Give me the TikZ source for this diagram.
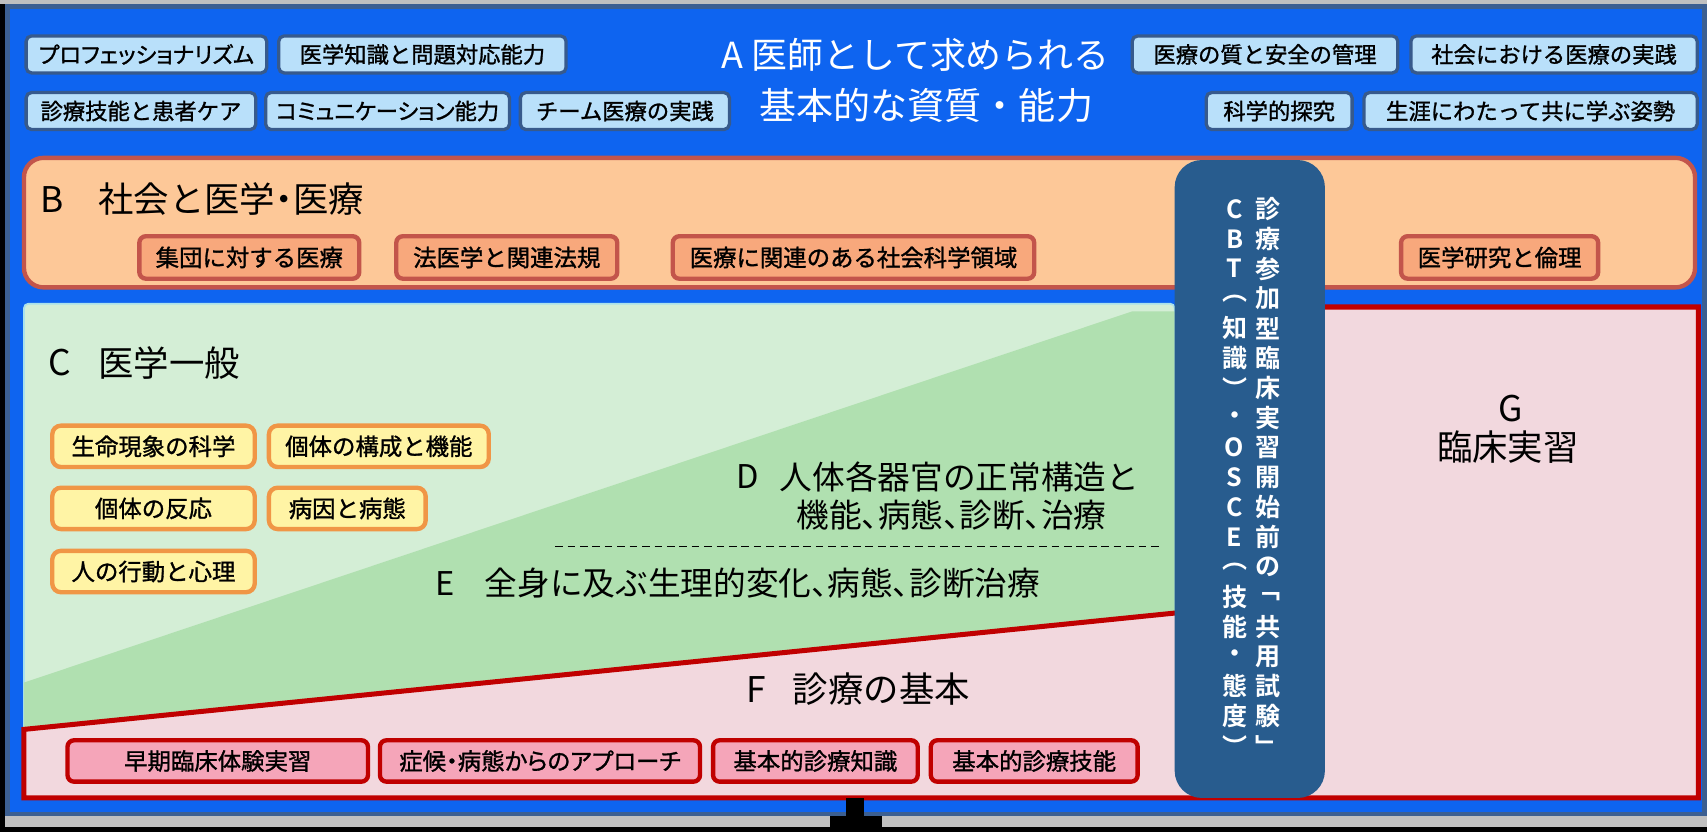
\documentclass[tikz,border=0pt]{standalone}
\usepackage{fontspec}
\newfontfamily\jp{Noto Sans CJK JP}
\newfontfamily\jpp[RawFeature=+palt]{Noto Sans CJK JP}
\newfontfamily\jpm[FakeBold=1.2]{Noto Sans CJK JP}
\newfontfamily\jpmp[FakeBold=1.2,RawFeature=+palt]{Noto Sans CJK JP}
\newfontfamily\jpb{Noto Sans CJK JP Bold}
\definecolor{bgblue}{RGB}{14,100,240}
\definecolor{frameblue}{RGB}{60,95,145}
\definecolor{afill}{RGB}{185,224,250}
\definecolor{aedge}{RGB}{55,90,140}
\definecolor{bfill}{RGB}{253,200,152}
\definecolor{bedge}{RGB}{195,85,75}
\definecolor{bsub}{RGB}{248,168,124}
\definecolor{pillarc}{RGB}{40,92,142}
\definecolor{glight}{RGB}{212,238,214}
\definecolor{gdark}{RGB}{176,224,176}
\definecolor{gedge}{RGB}{170,225,235}
\definecolor{pinkc}{RGB}{242,216,222}
\definecolor{redline}{RGB}{192,0,0}
\definecolor{fsub}{RGB}{245,165,185}
\definecolor{cfill}{RGB}{255,244,165}
\definecolor{cedge}{RGB}{240,150,70}
\definecolor{grayband}{RGB}{192,192,192}
\newcommand\rbox[7]{\node[#1, minimum width={(#5-#3)*0.5pt}, minimum height={(#6-#4)*0.5pt}] (#2) at ({(#3+#5)/2},{(#4+#6)/2}) {#7};}
\begin{document}
\begin{tikzpicture}[x=0.5pt,y=-0.5pt,
  abox/.style={draw=aedge, line width=1.5pt, fill=afill, rounded corners=2.5pt, inner sep=0pt, text=black, font=\jpm\fontsize{10.25}{12}\selectfont},
  bsubbox/.style={draw=bedge, line width=2pt, fill=bsub, rounded corners=3pt, inner sep=0pt, text=black, font=\jpm\fontsize{10.75}{12}\selectfont},
  cbox/.style={draw=cedge, line width=2pt, fill=cfill, rounded corners=4pt, inner sep=0pt, text=black, font=\jpm\fontsize{10.75}{12}\selectfont},
  fsubbox/.style={draw=redline, line width=2pt, fill=fsub, rounded corners=3pt, inner sep=0pt, text=black, font=\jpm\fontsize{10.75}{12}\selectfont},
  titleA/.style={inner sep=0pt, text=white, font=\jp\fontsize{16.5}{18}\selectfont},
  ttl/.style={inner sep=0pt, text=black, font=\jp\fontsize{16.25}{18}\selectfont},
  ttlD/.style={inner sep=0pt, text=black, font=\jp\fontsize{15}{17}\selectfont},
  ptext/.style={inner sep=0pt, text=white, font=\jpb\fontsize{11.5}{12}\selectfont},
]
\useasboundingbox (0,0) rectangle (1568,764);
% background and frame
\fill[black] (0,0) rectangle (1568,764);
\fill[grayband] (0,0) rectangle (1568,3.7);
\fill[frameblue] (4.6,3.7) rectangle (1568,750);
\fill[grayband] (4.6,750) rectangle (1568,760);
\fill[bgblue] (9,8) rectangle (1563,746);
% A section
\rbox{abox}{a1}{24}{33}{245}{67}{{\jpmp プロフェッショナリズム}}
\rbox{abox}{a2}{256}{33}{520}{67}{医学知識と問題対応能力}
\rbox{abox}{a3}{24}{85}{235}{119}{診療技能と患者ケア}
\rbox{abox}{a4}{244}{85}{468}{119}{{\jpmp コミュニケーション能力}}
\rbox{abox}{a5}{478}{85}{670}{119}{チーム医療の実践}
\rbox{abox}{a6}{1040}{33}{1284}{67}{医療の質と安全の管理}
\rbox{abox}{a7}{1296}{33}{1559}{67}{社会における医療の実践}
\rbox{abox}{a8}{1108}{85}{1242}{119}{科学的探究}
\rbox{abox}{a9}{1253}{85}{1559}{119}{生涯にわたって共に学ぶ姿勢}
\node[titleA] (ta1) at (841,50) {A 医師として求められる};
\node[titleA, font=\jp\fontsize{17}{18}\selectfont] (ta2) at (851,97) {基本的な資質・能力};
% B section
\draw[draw=bedge, line width=2pt, fill=bfill, rounded corners=9pt] (22,145) rectangle (1557,264);
\node[ttl, anchor=west] (tbl) at (37,183) {B};
\node[ttl, anchor=west] (tb) at (90,183) {社会と医学{\jpp ・}医療};
\rbox{bsubbox}{b1}{128}{217}{330}{256}{集団に対する医療}
\rbox{bsubbox}{b2}{364}{217}{567}{256}{法医学と関連法規}
\rbox{bsubbox}{b3}{618}{217}{950}{256}{医療に関連のある社会科学領域}
\rbox{bsubbox}{b4}{1287}{217}{1468}{256}{医学研究と倫理}
% green C/D/E region
\draw[draw=gedge, line width=0.8pt, fill=glight, rounded corners=2pt] (22,279) rectangle (1079,733);
\fill[gdark] (22,627) -- (1040,286) -- (1079,286) -- (1079,733) -- (22,733) -- cycle;
% F + G region
\draw[draw=redline, line width=2.3pt, fill=pinkc, line join=miter] (22,733) -- (22,670) -- (1130,558) -- (1130,282) -- (1560,282) -- (1560,733) -- cycle;
% C texts
\node[ttl, anchor=west] (tcl) at (44,333) {C};
\node[ttl, anchor=west] (tc) at (90,333) {医学一般};
\rbox{cbox}{c1}{48}{391}{234}{429}{生命現象の科学}
\rbox{cbox}{c2}{247}{391}{449}{429}{個体の構成と機能}
\rbox{cbox}{c3}{48}{448}{234}{486}{個体の反応}
\rbox{cbox}{c4}{247}{448}{391}{486}{病因と病態}
\rbox{cbox}{c5}{48}{506}{234}{544}{人の行動と心理}
% D / E texts
\node[ttlD, anchor=west] (tdl) at (676,438) {D};
\node[ttlD, anchor=west] (td1) at (716,438) {人体各器官の正常構造と};
\node[ttlD] (td2) at (874,473) {機能{\jpp 、}病態{\jpp 、}診断{\jpp 、}治療};
\coordinate (dashL) at (510,502);
\coordinate (dashR) at (1065,502);
\draw[black, line width=0.8pt, dash pattern=on 3.5pt off 2.2pt] (dashL) -- (dashR);
\node[ttlD, anchor=west] (tel) at (400,536) {E};
\node[ttlD, anchor=west] (te) at (445,536) {全身に及ぶ生理的変化{\jpp 、}病態{\jpp 、}診断治療};
% F texts
\node[ttl, anchor=west] (tfl) at (685,633) {F};
\node[ttl, anchor=west] (tf) at (728,633) {診療の基本};
\rbox{fsubbox}{f1}{62}{680}{338}{718}{早期臨床体験実習}
\rbox{fsubbox}{f2}{349}{680}{643}{718}{{\jpmp 症候・病態からのアプローチ}}
\rbox{fsubbox}{f3}{655}{680}{843}{718}{基本的診療知識}
\rbox{fsubbox}{f4}{855}{680}{1045}{718}{基本的診療技能}
% G texts
\node[ttl] (tgl) at (1388,375) {G};
\node[ttl] (tg) at (1385,411) {臨床実習};
% pillar
\rbox{fill=pillarc, draw=none, rounded corners=12.5pt, inner sep=0pt}{cbt}{1079}{147}{1217}{733}{}
\foreach \c [count=\i from 0] in {診,療,参,加,型,臨,床,実,習,開,始,前,の,﹁,共,用,試,験,﹂}
  \node[ptext] (r\i) at (1165,{192+27.4*\i}) {\c};
\foreach \c [count=\i from 0] in {C,B,T,︵,知,識,︶,・,O,S,C,E,︵,技,能,・,態,度,︶}
  \node[ptext] (l\i) at (1134,{192+27.4*\i}) {\c};
% stand
\fill[black] (777,733) rectangle (794,751);
\fill[black] (762,750) rectangle (810,764);
\end{tikzpicture}
\end{document}
